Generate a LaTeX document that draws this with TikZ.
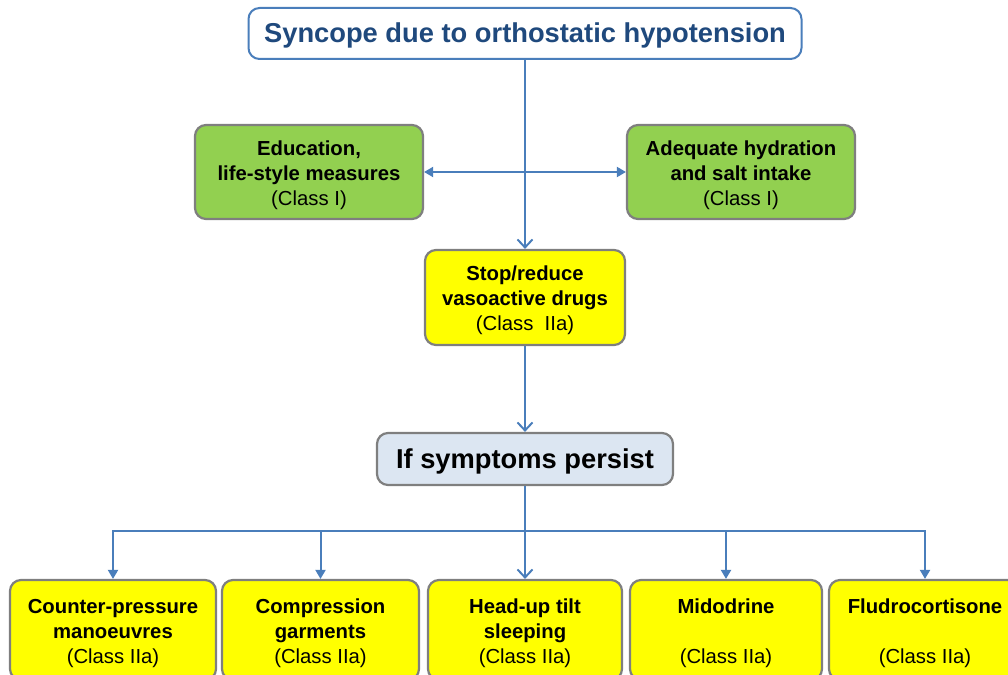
\documentclass[tikz,border=0pt]{standalone}
\usepackage{fontspec}
\setmainfont{Liberation Sans}
\usetikzlibrary{arrows.meta}
\definecolor{linkblue}{HTML}{4A7EBB}
\definecolor{titleblue}{HTML}{1F497D}
\definecolor{boxgray}{HTML}{7F7F7F}
\definecolor{leafgreen}{HTML}{92D050}
\definecolor{signyellow}{HTML}{FFFF00}
\definecolor{paleblue}{HTML}{DCE6F2}
% centred lines of a box, set a little below the box centre
\newcommand\boxlines[1]{\raisebox{-3pt}[\height][\depth]{\begin{tabular}{@{}c@{}}#1\end{tabular}}}
\tikzset{
  box/.style={draw=boxgray, line width=2.2pt, rounded corners=11pt,
    inner sep=0pt, font=\fontsize{20.3}{25}\selectfont},
  greenbox/.style={box, fill=leafgreen, minimum width=228pt, minimum height=94pt},
  yellowbox/.style={box, fill=signyellow, minimum height=95pt},
  link/.style={draw=linkblue, line width=2pt},
  barb/.style={link, -{Straight Barb[length=8pt,width=15pt,line width=2pt]}},
  tri/.style={link, -{Triangle[length=9pt,width=10pt]}},
  bitri/.style={link, {Triangle[length=9pt,width=10pt]}-{Triangle[length=9pt,width=10pt]}},
}
\begin{document}
\begin{tikzpicture}[x=1pt,y=-1pt]
\useasboundingbox (0,0) rectangle (1008,674);
\clip (0,0) rectangle (1008,674);
% top
\node[box, draw=linkblue, line width=2pt, fill=white, text=titleblue,
  minimum width=553pt, minimum height=51pt,
  font=\fontsize{27.3}{30}\selectfont\bfseries] (title) at (525,33.5)
  {\boxlines{Syncope due to orthostatic hypotension}};
% general measures
\node[greenbox] (edu) at (309,172)
  {\boxlines{\textbf{Education,}\\\textbf{life-style measures}\\(Class I)}};
\node[greenbox] (hyd) at (741,172)
  {\boxlines{\textbf{Adequate hydration}\\\textbf{and salt intake}\\(Class I)}};
\node[yellowbox, minimum width=200pt] (stop) at (525,297.5)
  {\boxlines{\textbf{Stop/reduce}\\\textbf{vasoactive drugs}\\(Class~ IIa)}};
\node[box, fill=paleblue, minimum width=296pt, minimum height=52pt,
  font=\fontsize{27.3}{30}\selectfont\bfseries] (persist) at (525,459)
  {\boxlines{If symptoms persist}};
% further options
\node[yellowbox, minimum width=206pt, minimum height=100pt] (cpm) at (113,630)
  {\boxlines{\textbf{Counter-pressure}\\\textbf{manoeuvres}\\(Class IIa)}};
\node[yellowbox, minimum width=197pt, minimum height=100pt] (cg) at (320.5,630)
  {\boxlines{\textbf{Compression}\\\textbf{garments}\\(Class IIa)}};
\node[yellowbox, minimum width=194pt, minimum height=100pt] (hut) at (525,630)
  {\boxlines{\textbf{Head-up tilt}\\\textbf{sleeping}\\(Class IIa)}};
\node[yellowbox, minimum width=192pt, minimum height=100pt] (mid) at (726,630)
  {\boxlines{\textbf{Midodrine}\\\mbox{}\\(Class IIa)}};
\node[yellowbox, minimum width=192pt, minimum height=100pt] (flu) at (925,630)
  {\boxlines{\textbf{Fludrocortisone}\\\mbox{}\\(Class IIa)}};
% connectors
\draw[barb] (title.south) -- (stop.north);
\draw[bitri] (edu.east) -- (hyd.west);
\draw[barb] (stop.south) -- (persist.north);
\coordinate (split) at (525,531);
\draw[link] (persist.south) -- (split);
\draw[tri] (split) -| (cpm.north);
\draw[tri] (split) -| (cg.north);
\draw[barb] (split) -- (hut.north);
\draw[tri] (split) -| (mid.north);
\draw[tri] (split) -| (flu.north);
\end{tikzpicture}
\end{document}
